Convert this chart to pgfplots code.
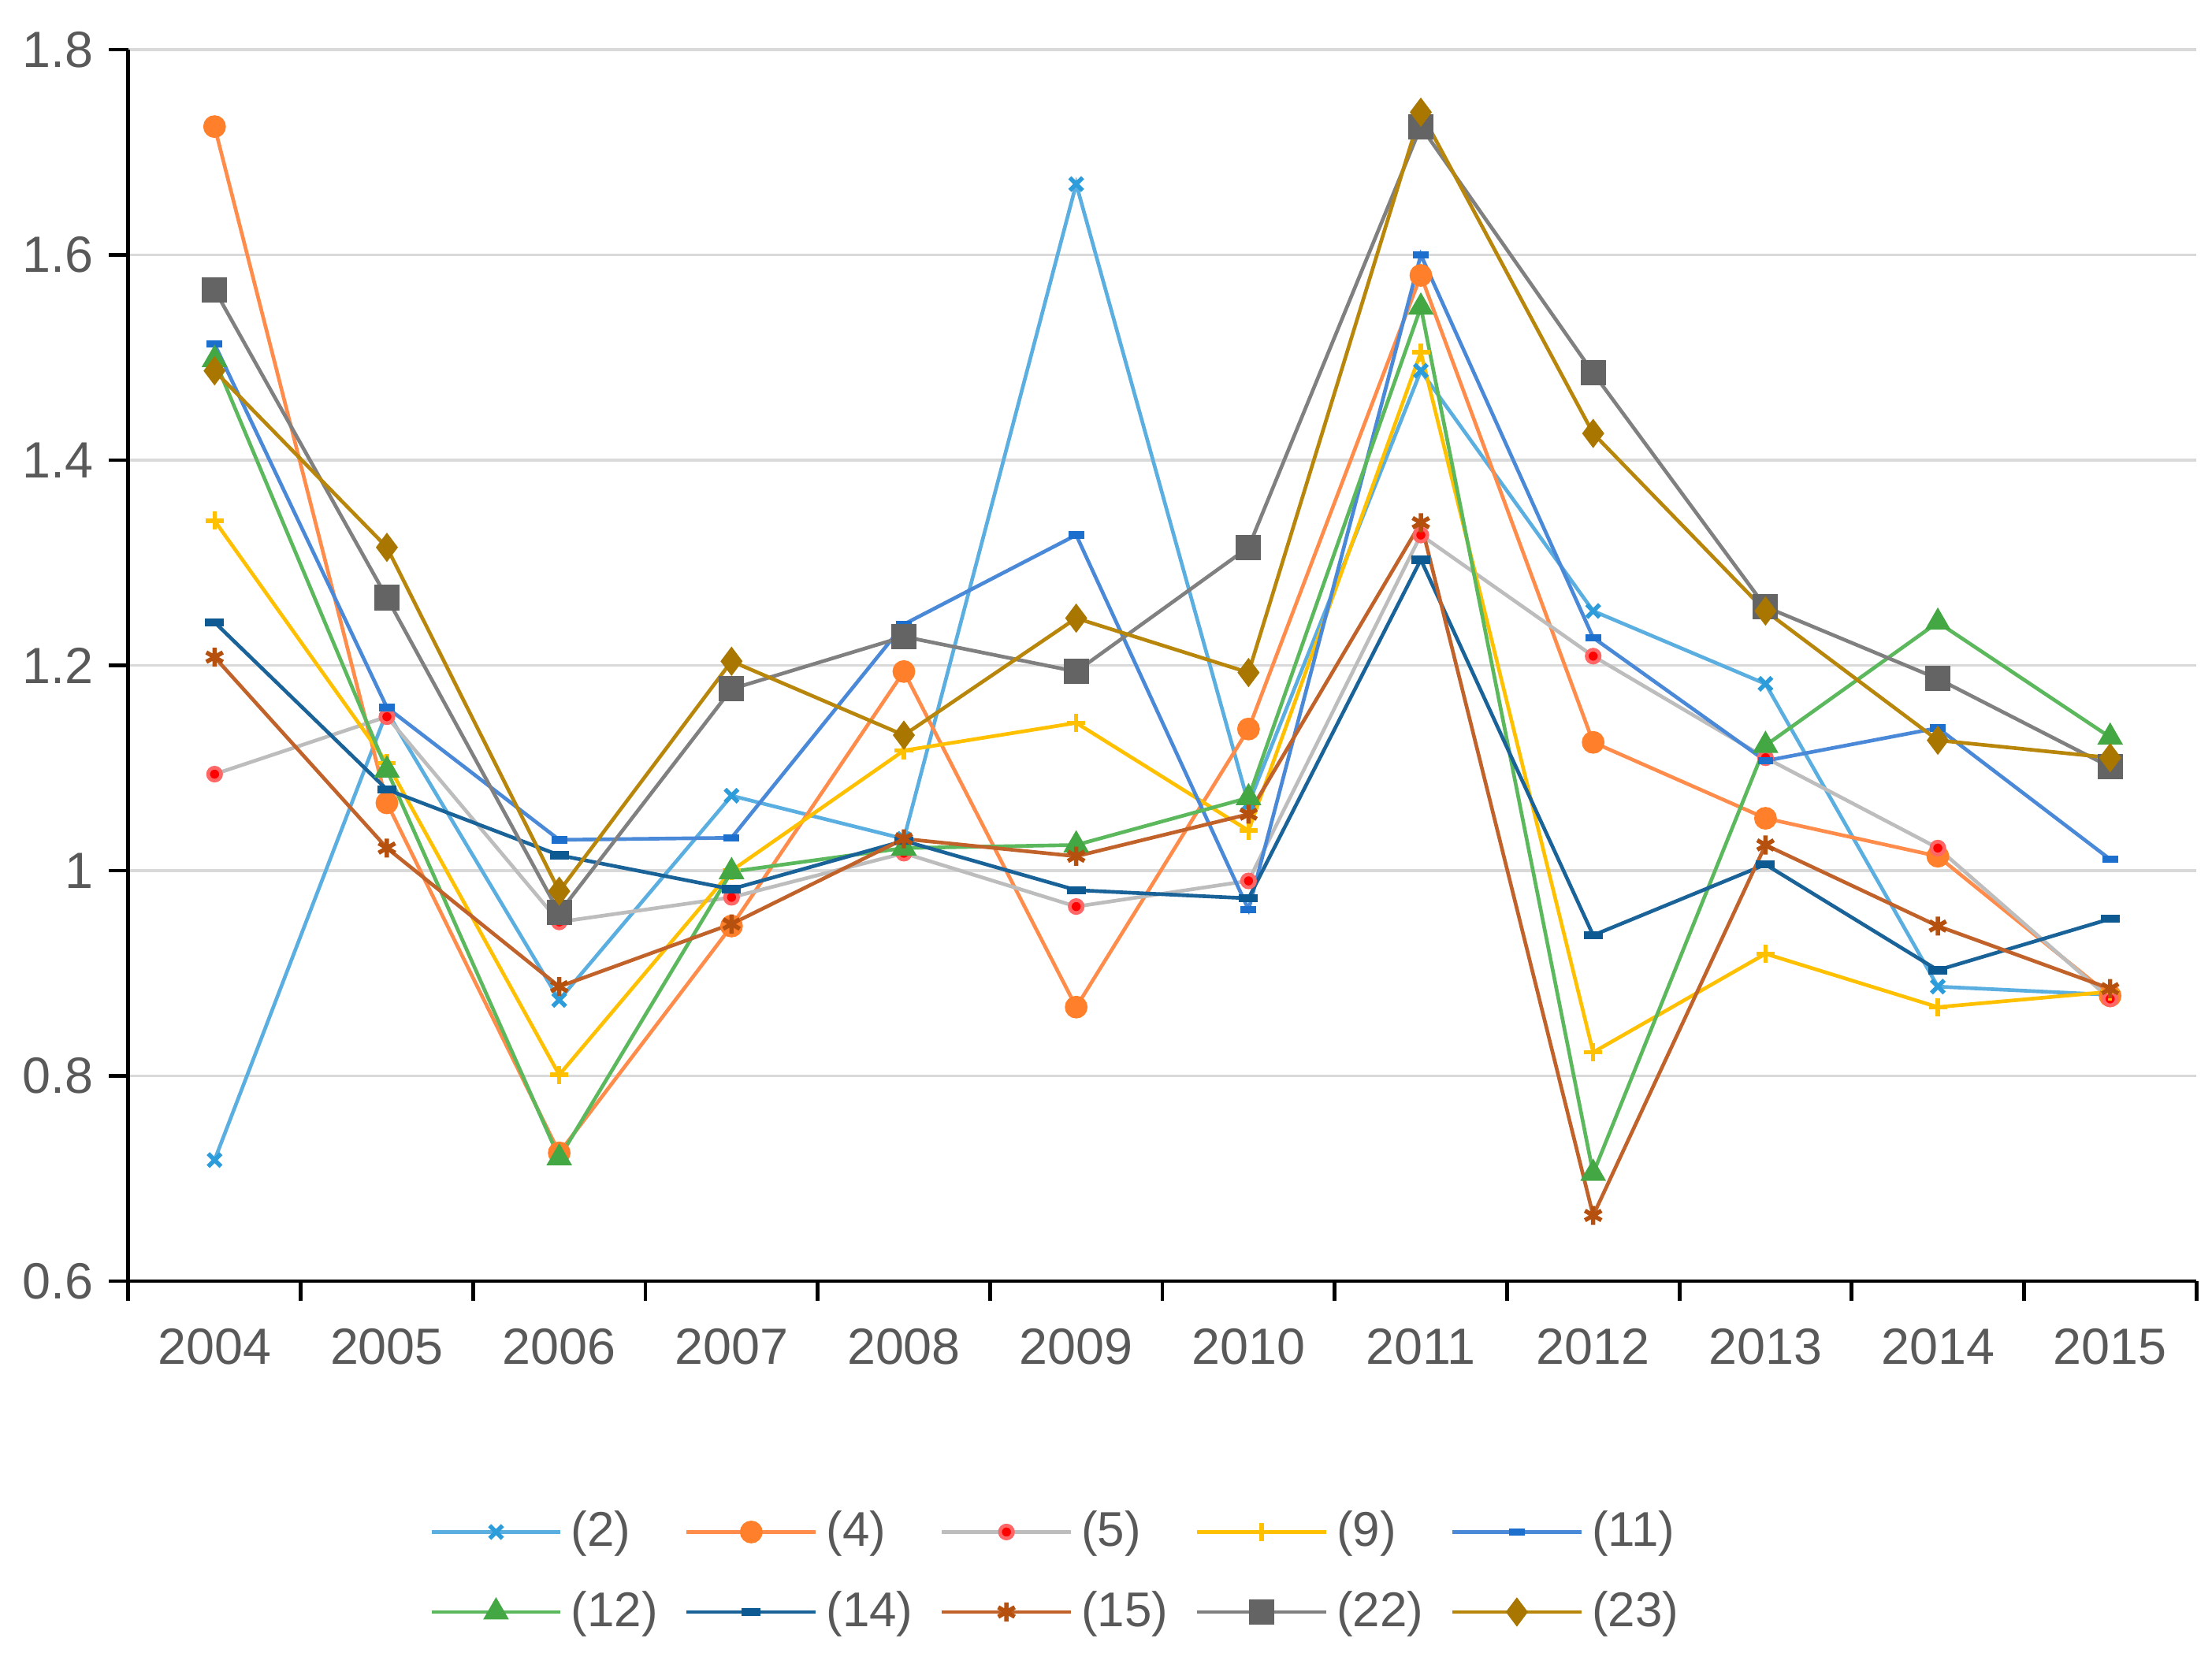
\documentclass[border=0pt]{standalone}
\usepackage{fontspec}
\setmainfont{Liberation Sans}
\usepackage{pgfplots}
\usepackage{pgfplotstable}
\pgfplotsset{compat=1.18}

\definecolor{labelgray}{HTML}{595959}
\definecolor{gridgray}{HTML}{D9D9D9}
\definecolor{c2l}{HTML}{5AAEE0}\definecolor{c2m}{HTML}{2D9CDB}
\definecolor{c4l}{HTML}{FF8C4A}\definecolor{c4m}{HTML}{FF7F2A}
\definecolor{c5l}{HTML}{BDBDBD}\definecolor{c5m}{HTML}{FF0000}
\definecolor{c9l}{HTML}{FFC000}\definecolor{c9m}{HTML}{FFC000}
\definecolor{c11l}{HTML}{4A88D8}\definecolor{c11m}{HTML}{1C6FCC}
\definecolor{c12l}{HTML}{5CB85C}\definecolor{c12m}{HTML}{43A843}
\definecolor{c14l}{HTML}{1A6399}\definecolor{c14m}{HTML}{0D5A92}
\definecolor{c15l}{HTML}{C0622A}\definecolor{c15m}{HTML}{B5500F}
\definecolor{c22l}{HTML}{808080}\definecolor{c22m}{HTML}{646464}
\definecolor{c23l}{HTML}{B8860B}\definecolor{c23m}{HTML}{A97700}

\pgfplotstableread{
x    s2    s4    s5    s9    s11   s12   s14   s15   s22   s23
0.5  0.718 1.725 1.094 1.341 1.513 1.498 1.242 1.208 1.566 1.487
1.5  1.155 1.066 1.150 1.105 1.159 1.098 1.079 1.022 1.266 1.315
2.5  0.874 0.725 0.950 0.801 1.030 0.720 1.015 0.887 0.959 0.980
3.5  1.073 0.946 0.974 1.000 1.032 0.999 0.982 0.948 1.177 1.204
4.5  1.031 1.194 1.017 1.117 1.240 1.022 1.029 1.031 1.228 1.132
5.5  1.669 0.867 0.965 1.144 1.327 1.025 0.981 1.014 1.194 1.246
6.5  1.065 1.138 0.990 1.039 0.962 1.071 0.973 1.055 1.315 1.193
7.5  1.487 1.580 1.327 1.505 1.600 1.549 1.303 1.339 1.725 1.739
8.5  1.253 1.125 1.209 0.823 1.227 0.705 0.937 0.664 1.485 1.426
9.5  1.182 1.051 1.110 0.919 1.107 1.122 1.006 1.025 1.257 1.253
10.5 0.887 1.014 1.022 0.867 1.139 1.242 0.903 0.946 1.187 1.127
11.5 0.879 0.878 0.875 0.882 1.011 1.130 0.953 0.885 1.101 1.110
}\datatable

\begin{document}
\begin{tikzpicture}
\begin{axis}[
  name=ax,
  at={(0,0)}, anchor=south west,
  scale only axis,
  width=16.827cm, height=10.023cm,
  xmin=0, xmax=12, ymin=0.6, ymax=1.8,
  axis x line=bottom, axis y line=left,
  axis line style={-, black, line width=0.9pt},
  xtick={0.5,1.5,2.5,3.5,4.5,5.5,6.5,7.5,8.5,9.5,10.5,11.5},
  xticklabels={2004,2005,2006,2007,2008,2009,2010,2011,2012,2013,2014,2015},
  minor xtick={0,1,2,3,4,5,6,7,8,9,10,11,12},
  ytick={0.6,0.8,1.0,1.2,1.4,1.6,1.8},
  tick align=outside,
  major tick length=0.16cm, minor tick length=0.16cm,
  major x tick style={draw=none},
  minor x tick style={black, line width=0.9pt},
  major y tick style={black, line width=0.9pt},
  ymajorgrids=true,
  major grid style={gridgray, line width=0.6pt},
  tick label style={font=\fontsize{11.8}{14}\selectfont, text=labelgray},
  xticklabel style={yshift=-0.10cm},
  /pgf/number format/assume math mode=true,
  clip=false,
  legend columns=5,
  legend cell align=left,
  legend image code/.code={\draw[mark repeat=2,mark phase=2,#1] plot coordinates {(0cm,0cm) (0.525cm,0cm) (1.05cm,0cm)};},
  legend style={at={(0.139,-0.172)}, anchor=north west, draw=none, fill=none,
    font=\fontsize{11.3}{13.5}\selectfont, text=labelgray,
    /tikz/every even column/.append style={column sep=0.15cm},
    row sep=0.17cm},
]
\addplot[c2l, line width=0.85pt, mark=x, mark size=2.1pt, mark options={c2m, line width=1pt}] table[x=x,y=s2]{\datatable};
\addlegendentry{(2)}
\addplot[c4l, line width=0.85pt, mark=*, mark size=2.2pt, mark options={draw=c4m, fill=c4m}] table[x=x,y=s4]{\datatable};
\addlegendentry{(4)}
\addplot[c5l, line width=0.85pt, mark=*, mark size=1.5pt, mark options={draw=c5m!60!white, fill=c5m}] table[x=x,y=s5]{\datatable};
\addlegendentry{(5)}
\addplot[c9l, line width=0.85pt, mark=+, mark size=2.1pt, mark options={c9m, line width=1pt}] table[x=x,y=s9]{\datatable};
\addlegendentry{(9)}
\addplot[c11l, line width=0.85pt, mark=-, mark size=1.8pt, mark options={c11m, line width=1.7pt}] table[x=x,y=s11]{\datatable};
\addlegendentry{(11)}
\addplot[c12l, line width=0.85pt, mark=triangle*, mark size=2.6pt, mark options={draw=c12m, fill=c12m}] table[x=x,y=s12]{\datatable};
\addlegendentry{(12)}
\addplot[c14l, line width=0.85pt, mark=-, mark size=2.2pt, mark options={c14m, line width=1.9pt}] table[x=x,y=s14]{\datatable};
\addlegendentry{(14)}
\addplot[c15l, line width=0.85pt, mark=asterisk, mark size=2.2pt, mark options={c15m, line width=1pt}] table[x=x,y=s15]{\datatable};
\addlegendentry{(15)}
\addplot[c22l, line width=0.85pt, mark=square*, mark size=2.5pt, mark options={draw=c22m, fill=c22m}] table[x=x,y=s22]{\datatable};
\addlegendentry{(22)}
\addplot[c23l, line width=0.85pt, mark=diamond*, mark size=2.7pt, mark options={draw=c23m, fill=c23m}] table[x=x,y=s23]{\datatable};
\addlegendentry{(23)}
\end{axis}
\pgfresetboundingbox
\path[use as bounding box] ([shift={(-1.045cm,-3.238cm)}]ax.south west) rectangle ([shift={(0.128cm,0.404cm)}]ax.north east);
\end{tikzpicture}
\end{document}
